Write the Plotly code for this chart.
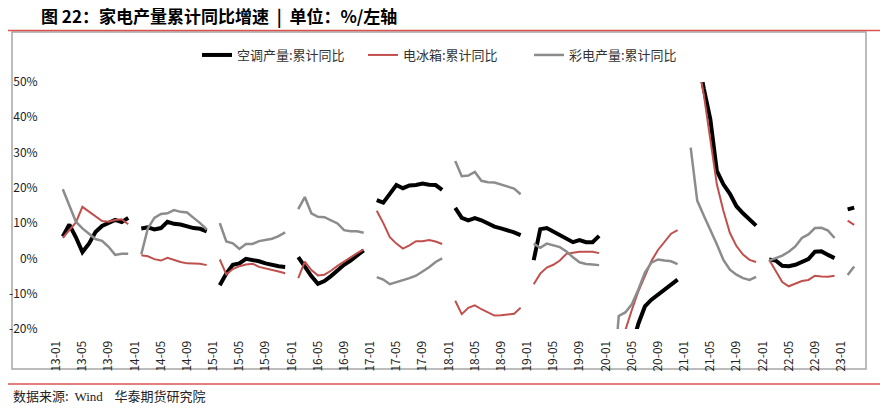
import plotly.graph_objects as go

# ---------------- data (cumulative YoY, %, January not published) ----------------
years = list(range(2013, 2024))
months = [f"{y % 100:02d}-{m:02d}" for y in years for m in range(1, 13)][:124]  # 13-01 .. 23-04

ac_yoy = (  # 空调产量:累计同比
    [None, 6.2, 9.6, 6.0, 1.8, 4.2, 7.5, 9.2, 10.2, 10.9, 10.3, 11.5]          # 2013
    + [None, 8.5, 8.8, 8.2, 8.6, 10.4, 9.8, 9.6, 9.1, 8.6, 8.4, 7.7]          # 2014
    + [None, -7.6, -4.3, -1.8, -1.4, -0.1, -0.4, -0.8, -1.4, -1.9, -2.2, -2.4]  # 2015
    + [None, 0.4, -2.5, -5.0, -7.2, -6.4, -5.0, -3.4, -1.8, -0.6, 0.7, 2.3]   # 2016
    + [None, 16.5, 15.8, 18.3, 20.8, 19.9, 20.7, 20.8, 21.2, 20.9, 20.8, 19.4]  # 2017
    + [None, 14.3, 11.5, 10.8, 11.4, 10.8, 9.9, 9.0, 8.5, 8.0, 7.4, 6.6]      # 2018
    + [None, -0.5, 8.3, 8.6, 7.6, 6.5, 5.5, 4.6, 5.2, 4.6, 4.6, 6.4]          # 2019
    + [None, -38.0, -34.0, -30.0, -25.0, -18.5, -13.6, -11.7, -10.3, -9.0, -7.5, -6.0]  # 2020
    + [None, 90.0, 58.0, 48.2, 39.5, 24.8, 21.0, 18.3, 14.8, 12.8, 11.0, 9.3]  # 2021
    + [None, -0.3, -0.6, -2.1, -2.2, -1.8, -1.1, -0.2, 1.9, 2.0, 1.0, 0.1]    # 2022
    + [None, 13.9, 14.4]                                                      # 2023
)

fridge_yoy = (  # 电冰箱:累计同比
    [None, 5.8, 8.0, 10.2, 14.6, 13.2, 11.8, 10.6, 10.4, 10.9, 11.1, 9.7]
    + [None, 0.9, 0.6, -0.2, -0.6, 0.2, -0.5, -1.0, -1.4, -1.5, -1.5, -1.9]
    + [None, -0.3, -4.5, -3.0, -2.2, -1.7, -1.5, -2.4, -2.8, -3.1, -3.7, -4.2]
    + [None, -5.6, -0.9, -3.3, -4.8, -4.6, -3.5, -2.1, -0.9, 0.5, 1.5, 2.5]
    + [None, 13.5, 10.0, 6.0, 4.2, 2.8, 3.7, 4.9, 4.9, 5.2, 4.8, 4.1]
    + [None, -12.0, -15.8, -14.0, -13.3, -14.4, -15.3, -16.2, -16.1, -15.9, -15.7, -14.0]
    + [None, -7.3, -4.3, -2.6, -1.8, -0.6, 1.3, 1.6, 1.9, 1.9, 1.9, 1.5]
    + [None, -32.0, -26.0, -20.2, -14.6, -9.3, -5.0, -0.7, 2.4, 4.8, 7.0, 8.0]
    + [None, 80.0, 57.0, 46.5, 33.5, 21.0, 13.5, 7.2, 3.5, 1.1, -0.4, -1.0]
    + [None, -0.4, -3.7, -6.7, -7.9, -7.2, -6.4, -6.1, -4.9, -5.1, -5.2, -4.9]
    + [None, 10.7, 9.5]
)

tv_yoy = (  # 彩电产量:累计同比
    [None, 19.6, 15.0, 10.4, 8.5, 7.0, 5.5, 5.0, 3.3, 1.0, 1.3, 1.3]
    + [None, 1.2, 8.5, 11.5, 12.6, 12.8, 13.7, 13.2, 13.0, 11.5, 10.0, 8.2]
    + [None, 10.0, 4.8, 4.3, 2.7, 4.1, 4.1, 4.9, 5.3, 5.6, 6.3, 7.4]
    + [None, 14.0, 17.4, 12.8, 11.8, 11.7, 10.9, 9.9, 8.0, 7.7, 7.7, 7.3]
    + [None, -5.3, -6.0, -7.3, -6.8, -6.2, -5.6, -4.9, -3.8, -2.5, -1.0, 0.0]
    + [None, 27.6, 23.3, 23.5, 24.5, 22.0, 21.6, 21.5, 20.9, 20.4, 19.8, 18.2]
    + [None, 4.2, 3.0, 4.2, 3.8, 3.2, 2.0, 0.3, -1.1, -1.6, -1.7, -1.9]
    + [None, -40.0, -16.3, -15.3, -13.0, -8.8, -4.0, -1.2, -0.3, -0.6, -0.8, -1.6]
    + [None, 31.4, 16.4, 12.2, 8.2, 4.0, -0.4, -3.2, -4.6, -5.6, -6.1, -5.2]
    + [None, -0.6, 0.0, 0.8, 1.9, 3.4, 5.8, 6.8, 8.6, 8.7, 7.9, 5.8]
    + [None, -4.7, -2.3]
)

tick_labels = months[::4]
y_ticks = [-20, -10, 0, 10, 20, 30, 40, 50]

series = [
    ("空调产量:累计同比", ac_yoy, "#000000", 4),
    ("电冰箱:累计同比", fridge_yoy, "#C0504D", 2),
    ("彩电产量:累计同比", tv_yoy, "#8C8C8C", 2.5),
]

# ---------------- layout geometry ----------------
W, H = 888, 410
L, R, T, B = 53, 24, 82, 81
Y_MIN, Y_MAX = -20, 50


def px(x):
    return (x - L) / (W - L - R)


def py(y):
    return 1 - (y - T) / (H - T - B)


FONT = "Noto Sans CJK SC, Noto Sans, sans-serif"

fig = go.Figure()
for name, vals, color, width in series:
    fig.add_trace(go.Scatter(
        x=months[:len(vals)], y=vals, name=name, mode="lines",
        line=dict(color=color, width=width), connectgaps=False,
        hoverinfo="skip",
    ))

n = len(months)
fig.update_layout(
    template="none",
    width=W, height=H,
    margin=dict(l=L, r=R, t=T, b=B, pad=0, autoexpand=False),
    paper_bgcolor="white", plot_bgcolor="white",
    font=dict(family=FONT, size=12, color="#222222"),
    showlegend=True,
    legend=dict(
        orientation="h", xref="paper", yref="paper",
        x=px(197), y=py(40), xanchor="left", yanchor="top",
        font=dict(size=13, color="#333333"), itemwidth=30,
        entrywidth=121, entrywidthmode="pixels",
        tracegroupgap=0, bgcolor="rgba(0,0,0,0)", borderwidth=0,
    ),
    xaxis=dict(
        type="category", categoryorder="array", categoryarray=months,
        range=[-0.5, n - 0.5], tickmode="array", tickvals=tick_labels,
        ticktext=tick_labels, tickangle=-90, showgrid=False, showline=False,
        ticks="outside", ticklen=6, tickcolor="rgba(0,0,0,0)", zeroline=False,
        tickfont=dict(size=12, color="#222222"), automargin=False,
    ),
    xaxis2=dict(
        overlaying="x", anchor="free", position=(0 - Y_MIN) / (Y_MAX - Y_MIN),
        type="linear", range=[-0.5, n - 0.5], tickmode="array",
        tickvals=[i - 0.5 for i in range(0, n, 4)], showticklabels=False,
        ticks="outside", ticklen=4, tickcolor="#D9D9D9", tickwidth=1,
        showline=True, linecolor="#D9D9D9", linewidth=1.5, showgrid=False,
        zeroline=False, side="bottom", automargin=False,
    ),
    yaxis=dict(
        range=[Y_MIN, Y_MAX], tickmode="array", tickvals=y_ticks,
        ticktext=[f"{v}%" for v in y_ticks], showgrid=False, zeroline=False,
        showline=False, ticks="outside", ticklen=12, tickcolor="rgba(0,0,0,0)",
        tickfont=dict(size=12, color="#222222"), automargin=False,
    ),
)

# title, source and decorative frame
fig.add_annotation(
    text="<b>图 22：家电产量累计同比增速  |  单位：%/左轴</b>",
    xref="paper", yref="paper", x=px(39), y=py(15), xanchor="left", yanchor="middle",
    showarrow=False, font=dict(size=17, color="#000000", family=FONT),
)
fig.add_annotation(
    text="数据来源:  <span style='font-family:Liberation Serif'>Wind</span>    华泰期货研究院",
    xref="paper", yref="paper", x=px(11), y=py(395), xanchor="left", yanchor="middle",
    showarrow=False, font=dict(size=13, color="#222222", family=FONT),
)
fig.add_shape(type="line", xref="paper", yref="paper", x0=px(8), x1=px(880),
              y0=py(30.5), y1=py(30.5), line=dict(color="#D9534F", width=1.3))
fig.add_shape(type="line", xref="paper", yref="paper", x0=px(8), x1=px(880),
              y0=py(384), y1=py(384), line=dict(color="#D9534F", width=1.3))
fig.add_shape(type="rect", xref="paper", yref="paper", x0=px(12), x1=px(866),
              y0=py(369), y1=py(32), line=dict(color="#A6A6A6", width=1.5),
              layer="below")

fig.write_html(
    "out.html",
    config={"displayModeBar": False, "staticPlot": True},
    post_script="document.body.style.margin='0';document.body.style.overflow='hidden';",
)
